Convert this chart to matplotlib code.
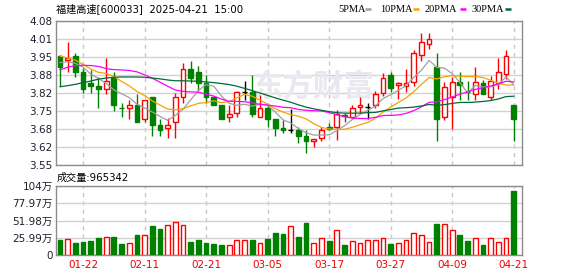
import numpy as np
import pandas as pd
import matplotlib
matplotlib.use("Agg")
import matplotlib.pyplot as plt
from matplotlib.patches import Rectangle
from matplotlib.lines import Line2D

# ---------------- data ----------------
dates = ["01-17", "01-20", "01-21", "01-22", "01-23", "01-24", "01-27", "02-05", "02-06", "02-07",
         "02-10", "02-11", "02-12", "02-13", "02-14", "02-17", "02-18", "02-19", "02-20", "02-21",
         "02-24", "02-25", "02-26", "02-27", "02-28", "03-03", "03-04", "03-05", "03-06", "03-07",
         "03-10", "03-11", "03-12", "03-13", "03-14", "03-17", "03-18", "03-19", "03-20", "03-21",
         "03-24", "03-25", "03-26", "03-27", "03-28", "03-31", "04-01", "04-02", "04-03", "04-07",
         "04-08", "04-09", "04-10", "04-11", "04-14", "04-15", "04-16", "04-17", "04-18", "04-21"]

open_ = [3.951, 3.935, 3.952, 3.894, 3.853, 3.841, 3.831, 3.870, 3.761, 3.761,
         3.771, 3.721, 3.799, 3.696, 3.687, 3.709, 3.802, 3.902, 3.891, 3.851,
         3.799, 3.772, 3.728, 3.740, 3.820, 3.817, 3.728, 3.759, 3.718, 3.685,
         3.679, 3.679, 3.657, 3.640, 3.648, 3.689, 3.689, 3.735, 3.728, 3.762,
         3.762, 3.771, 3.814, 3.881, 3.844, 3.842, 3.854, 3.955, 3.994, 3.909,
         3.728, 3.801, 3.857, 3.820, 3.811, 3.853, 3.802, 3.851, 3.884, 3.771]
high = [3.955, 4.003, 3.963, 3.908, 3.900, 3.875, 3.945, 3.891, 3.779, 3.788,
        3.811, 3.789, 3.799, 3.718, 3.724, 3.815, 3.924, 3.933, 3.914, 3.881,
        3.804, 3.772, 3.771, 3.822, 3.859, 3.881, 3.808, 3.771, 3.718, 3.715,
        3.755, 3.689, 3.679, 3.645, 3.689, 3.706, 3.752, 3.740, 3.771, 3.799,
        3.777, 3.822, 3.887, 3.894, 3.857, 3.902, 3.973, 4.035, 4.035, 3.961,
        3.857, 3.875, 3.891, 3.859, 3.909, 3.863, 3.877, 3.945, 3.973, 3.771]
low = [3.842, 3.894, 3.873, 3.814, 3.814, 3.761, 3.811, 3.750, 3.727, 3.720,
       3.709, 3.709, 3.658, 3.658, 3.648, 3.650, 3.779, 3.853, 3.822, 3.777,
       3.770, 3.720, 3.709, 3.728, 3.789, 3.728, 3.728, 3.689, 3.658, 3.668,
       3.669, 3.630, 3.595, 3.618, 3.640, 3.679, 3.642, 3.709, 3.724, 3.743,
       3.718, 3.759, 3.804, 3.820, 3.792, 3.820, 3.842, 3.934, 3.976, 3.640,
       3.714, 3.681, 3.789, 3.789, 3.789, 3.811, 3.789, 3.830, 3.865, 3.640]
close = [3.912, 3.945, 3.894, 3.830, 3.842, 3.830, 3.859, 3.772, 3.760, 3.770,
         3.709, 3.789, 3.698, 3.679, 3.696, 3.801, 3.902, 3.871, 3.853, 3.802,
         3.772, 3.720, 3.738, 3.817, 3.820, 3.738, 3.759, 3.719, 3.687, 3.679,
         3.679, 3.658, 3.640, 3.645, 3.679, 3.683, 3.736, 3.729, 3.759, 3.771,
         3.762, 3.811, 3.869, 3.832, 3.850, 3.850, 3.961, 4.001, 4.014, 3.720,
         3.838, 3.857, 3.844, 3.817, 3.857, 3.811, 3.859, 3.891, 3.951, 3.720]
volume = [227000, 237000, 182000, 197000, 207000, 257000, 273000, 273000, 167000, 177000,
          303000, 298000, 439000, 394000, 449000, 495000, 449000, 197000, 227000, 182000,
          167000, 151000, 146000, 222000, 222000, 227000, 177000, 242000, 333000, 318000,
          434000, 273000, 485000, 177000, 252000, 212000, 373000, 151000, 207000, 177000,
          222000, 222000, 252000, 167000, 177000, 222000, 328000, 298000, 192000, 469000,
          464000, 373000, 303000, 212000, 252000, 151000, 252000, 192000, 252000, 965342]

# moving-average values before a full window is available
ma5_lead = [3.927, 3.930, 3.924, 3.910]
ma10_lead = [3.951, 3.944, 3.936, 3.920, 3.903, 3.891, 3.887, 3.876, 3.858]
ma20_lead = [3.900, 3.910, 3.916, 3.917, 3.916, 3.913, 3.905, 3.901, 3.900, 3.898,
             3.893, 3.882, 3.869, 3.855, 3.840, 3.826, 3.821, 3.819, 3.818]
ma30_lead = [3.838, 3.842, 3.847, 3.853, 3.859, 3.866, 3.870, 3.873, 3.874, 3.874,
             3.874, 3.873, 3.870, 3.867, 3.863, 3.860, 3.860, 3.859, 3.858, 3.856,
             3.853, 3.850, 3.846, 3.840, 3.832, 3.824, 3.815, 3.806, 3.797]

price_tick_labels = ["3.55", "3.62", "3.68", "3.75", "3.82", "3.88", "3.95", "4.01", "4.08"]
price_min, price_max = 3.55, 4.08
vol_tick_labels = ["0", "25.99万", "51.98万", "77.97万", "104万"]
vol_max = 1039600
x_tick_dates = ["01-22", "02-11", "02-21", "03-05", "03-17", "03-27", "04-09", "04-21"]
title = "福建高速[600033]  2025-04-21  15:00"
ma_names = ["5PMA", "10PMA", "20PMA", "30PMA"]

# ---------------- style ----------------
RED = "#ff0000"
GREEN = "#008000"
MA_COLORS = ["#a0a0a0", "#f5a300", "#ff00ff", "#006b35"]
GRID = "#d2d2d2"
SPINE = "#8c8c8c"
TXT = "#1f1f2e"
CJK = ["DejaVu Sans", "Noto Sans CJK SC"]

W, H = 578, 276
fig = plt.figure(figsize=(W / 100, H / 100), dpi=100)
L, R = 56, 522
ax = fig.add_axes([L / W, 1 - 165 / H, (R - L) / W, 144 / H])
axv = fig.add_axes([L / W, 1 - 255 / H, (R - L) / W, 69 / H])

n = len(close)
x = np.arange(n)
xlim = (-0.52, n + 0.08)
tick_pos = [dates.index(d) for d in x_tick_dates]

# ---------------- candles ----------------
cw = 0.62
for i in range(n):
    o, h, l, c = open_[i], high[i], low[i], close[i]
    if c > o:
        col, face = RED, "white"
    elif c < o:
        col, face = GREEN, GREEN
    else:
        col, face = "black", "black"
    ax.vlines(i, l, h, color=col, lw=1.0, zorder=3)
    ax.add_patch(Rectangle((i - cw / 2, min(o, c)), cw, abs(c - o),
                           facecolor=face, edgecolor=col, lw=1.0, zorder=4))

# ---------------- moving averages ----------------
cs = pd.Series(close)
for (win, lead, col) in zip([5, 10, 20, 30], [ma5_lead, ma10_lead, ma20_lead, ma30_lead], MA_COLORS):
    m = cs.rolling(win).mean().to_numpy()
    m[:win - 1] = lead
    ax.plot(x, m, color=col, lw=0.9, zorder=5)

ax.set_xlim(*xlim)
ax.set_ylim(price_min, price_max)
ax.set_yticks(np.linspace(price_min, price_max, len(price_tick_labels)))
ax.set_yticklabels(price_tick_labels)
ax.set_xticks(tick_pos)
ax.tick_params(axis="x", labelbottom=False, length=0)
ax.tick_params(axis="y", length=0, pad=2.5, labelsize=7.5, labelcolor=TXT)
ax.grid(axis="y", color=GRID, lw=1.0, ls="-", zorder=0)
ax.grid(axis="x", color="#c8c8c8", lw=1.0, ls=(0, (3, 3)), zorder=0)
ax.set_axisbelow(True)
ax.text(0.551, 0.545, "东方财富", transform=ax.transAxes, fontsize=22,
        fontfamily="Noto Sans CJK SC", fontweight="bold", color="#e8e8ee",
        ha="center", va="center", zorder=1)

# ---------------- volume ----------------
vcols = [RED if close[i] >= open_[i] else GREEN for i in range(n)]
vfaces = ["white" if c == RED else GREEN for c in vcols]
axv.bar(x, volume, width=cw, color=vfaces, edgecolor=vcols, lw=1.0, zorder=3)
axv.set_xlim(*xlim)
axv.set_ylim(0, vol_max)
axv.set_yticks(np.linspace(0, vol_max, len(vol_tick_labels)))
axv.set_yticklabels(vol_tick_labels, fontfamily=CJK)
axv.set_xticks(tick_pos)
axv.set_xticklabels(x_tick_dates)
axv.tick_params(axis="y", length=0, pad=2.5, labelsize=7.5, labelcolor=TXT)
axv.tick_params(axis="x", length=0, pad=3.5, labelsize=7.5, labelcolor="#ee0000")
axv.grid(axis="y", color=GRID, lw=1.0, ls="-", zorder=0)
axv.grid(axis="x", color="#c8c8c8", lw=1.0, ls=(0, (3, 3)), zorder=0)
axv.set_axisbelow(True)

for a in (ax, axv):
    for s in a.spines.values():
        s.set_color(SPINE)
        s.set_linewidth(1.0)

# ---------------- texts ----------------
fig.text(L / W, 1 - 8.5 / H, title, fontsize=7.3, fontfamily=CJK, color="black",
         ha="left", va="center")
fig.text(57 / W, 1 - 177.5 / H, f"成交量:{volume[-1]}", fontsize=7.3, fontfamily=CJK,
         color="black", ha="left", va="center")

leg_x = [338, 380, 425, 471]
dash_x = [365, 413, 460, 505]
ly = 1 - 9.3 / H
for name, lx, dx, col in zip(ma_names, leg_x, dash_x, MA_COLORS):
    fig.text(lx / W, ly, name, fontsize=7.5, fontfamily="Liberation Serif", color="black",
             ha="left", va="center")
    fig.add_artist(Line2D([dx / W, (dx + 6) / W], [ly, ly], transform=fig.transFigure,
                          color=col, lw=1.8, solid_capstyle="butt"))

fig.savefig("out.png", dpi=100)
